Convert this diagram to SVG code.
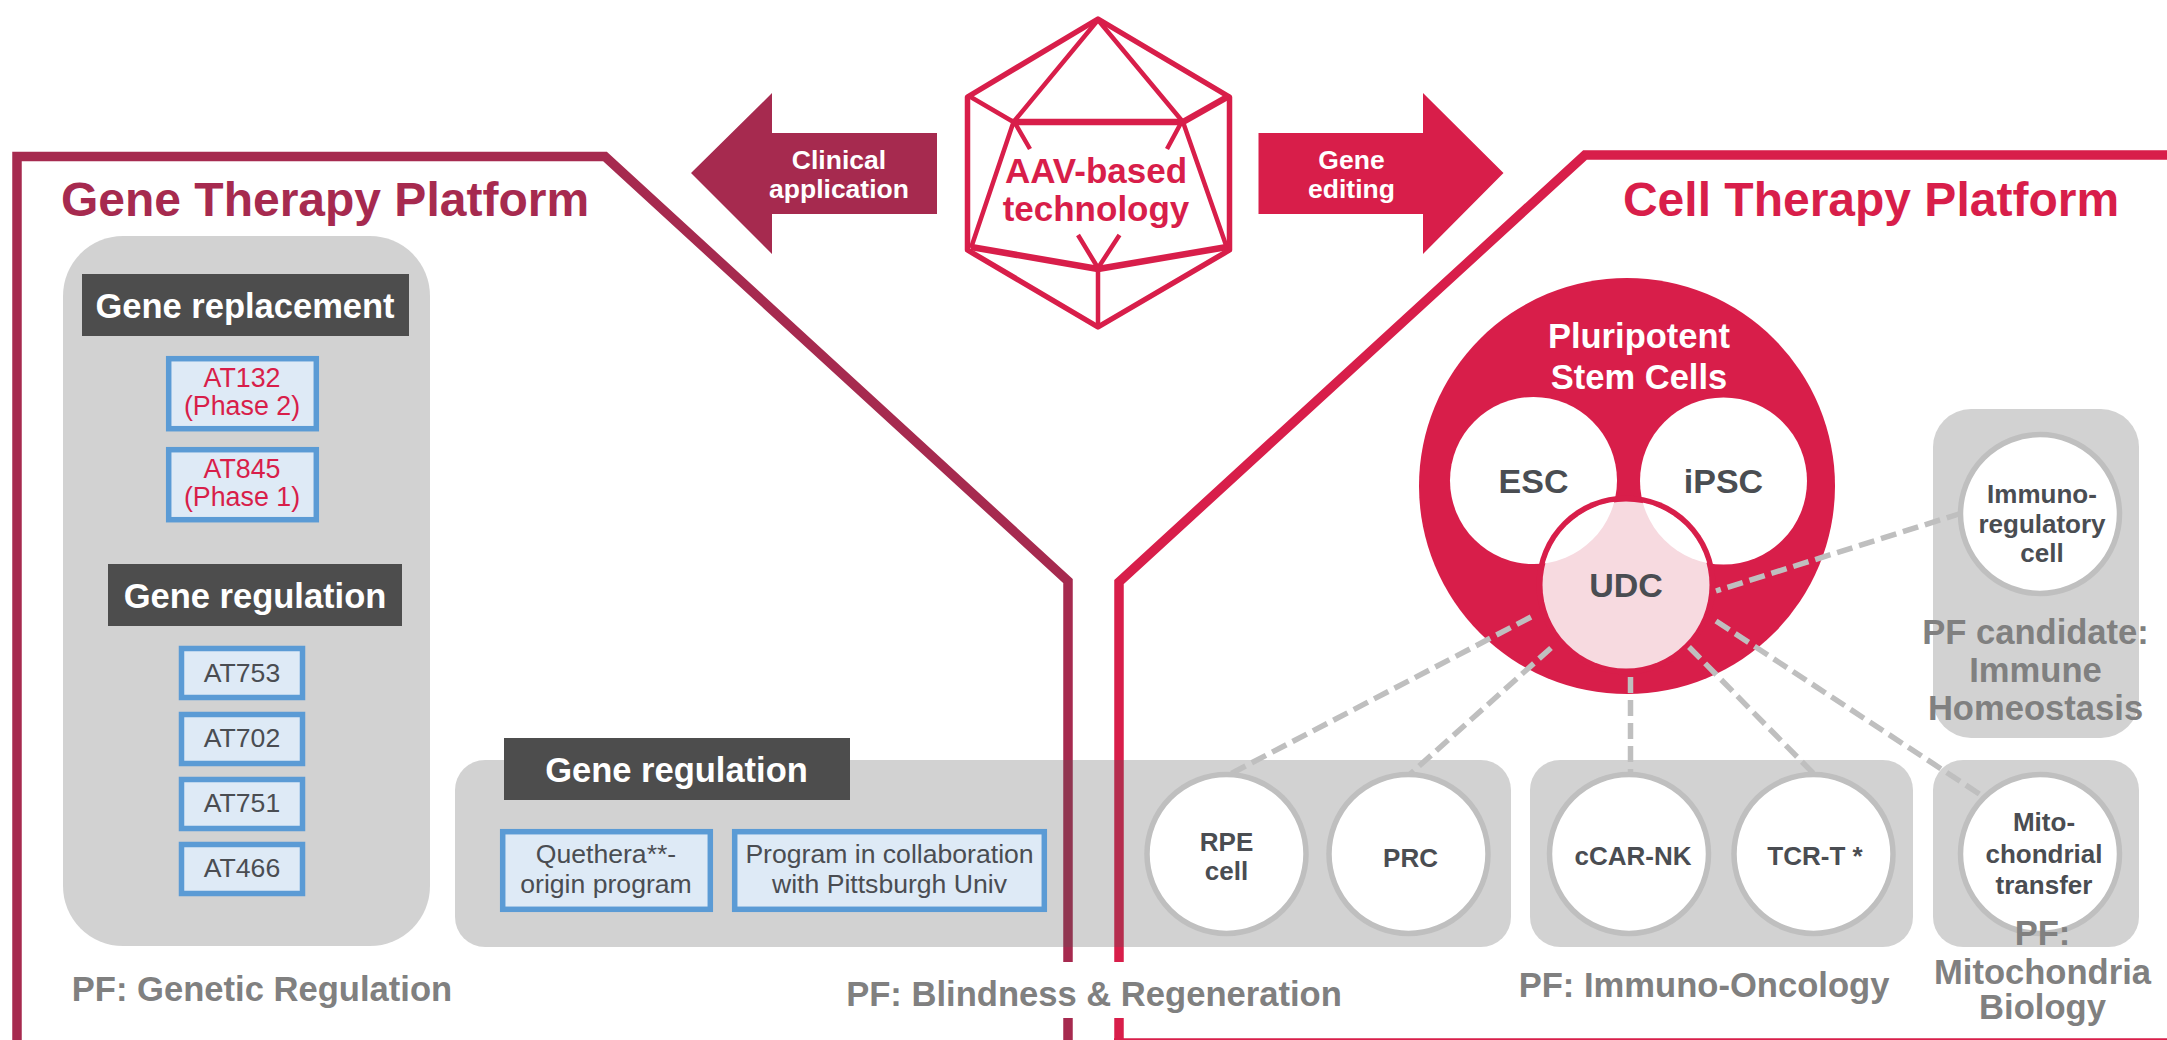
<svg xmlns="http://www.w3.org/2000/svg" width="2167" height="1040" viewBox="0 0 2167 1040">
<defs>
<style>
text{font-family:"Liberation Sans",Arial,sans-serif;text-anchor:middle}
.b{font-weight:700}
.t{font-size:48px;font-weight:700}
.h{font-size:34.500px;font-weight:700;fill:#fff}
.pf{font-size:34.600px;font-weight:700;fill:#808080}
.n{font-size:26.600px;fill:#4a4d52}
.r{font-size:26.800px;fill:#d81e4a}
.c{font-size:26px;font-weight:700;fill:#4a4d52}
.big{font-size:34px;font-weight:700;fill:#4a4d52}
.w{font-size:26.500px;font-weight:700;fill:#fff}
.panel{fill:#585858;fill-opacity:.27}
.dark{fill:#4d4d4d}
.box{fill:#deeaf6;stroke:#5b9bd5;stroke-width:5.5}
.cell{fill:#fff;stroke:#bfbfbf;stroke-width:5.5}
.dash{fill:none;stroke:#bfbfbf;stroke-width:5.5;stroke-dasharray:16 7}
.hex{fill:none;stroke:#d81e4a;stroke-linejoin:round;stroke-linecap:butt}
</style>
<clipPath id="udcClip"><circle cx="1626" cy="585" r="84"/></clipPath>
</defs>

<g id="frames" fill="none" stroke-width="9.500">
<path d="M17 1040V156.500H605L1068 581V962" stroke="#a62a4f"/>
<path d="M2167 155H1585L1119 582V962" stroke="#d81e4a"/>
<path d="M1068 1018V1040" stroke="#a62a4f"/>
<path d="M1119 1018V1040" stroke="#d81e4a"/>
<path d="M1114 1039.200H2167" stroke="#d81e4a" stroke-width="2"/>
</g>

<g id="panels">
<rect class="panel" x="63" y="236" width="367" height="710" rx="60"/>
<rect class="panel" x="455" y="760" width="1056" height="187" rx="30"/>
<rect class="panel" x="1530" y="760" width="383" height="187" rx="30"/>
<rect class="panel" x="1933" y="760" width="206" height="187" rx="30"/>
<rect class="panel" x="1933" y="409" width="206" height="329" rx="38"/>
</g>

<g id="hexagon">
<path class="hex" stroke-width="5.500" d="M1098 19L1229.500 97V250L1098 327L967.500 250V97Z"/>
<path class="hex" stroke-width="4.500" d="M1098 20L1013.500 122M1098 20L1183 122M969 96L1013.500 122M1013.500 122L971 248M1015 123L1030 149M1181 123L1167 149M1183 122L1227 248M1078 235L1098 268L1119.500 235M1098 269V328"/>
<path class="hex" stroke-width="6.500" d="M1011 122H1186M1183 122L1229 96M971 247L1098 269L1227 247"/>
<text class="b" x="1096" y="183" font-size="35" fill="#d81e4a">AAV-based</text>
<text class="b" x="1096" y="221" font-size="35" fill="#d81e4a">technology</text>
</g>

<g id="arrow-clinical">
<path d="M691 173L772 93V133H937V214H772V254Z" fill="#a62a4f"/>
<text class="w" x="839" y="169">Clinical</text>
<text class="w" x="839" y="198">application</text>
</g>
<g id="arrow-gene-editing">
<path d="M1258.500 133H1423V93L1503.500 173L1423 254V214H1258.500Z" fill="#d81e4a"/>
<text class="w" x="1351.500" y="169">Gene</text>
<text class="w" x="1351.500" y="198">editing</text>
</g>

<g id="title-gene"><text class="t" x="325" y="216" fill="#a62a4f">Gene Therapy Platform</text></g>
<g id="title-cell"><text class="t" x="1871" y="216" fill="#d81e4a">Cell Therapy Platform</text></g>

<g id="gene-replacement">
<rect class="dark" x="82" y="274" width="327" height="62"/>
<text class="h" x="245" y="318">Gene replacement</text>
</g>
<g id="at132">
<rect class="box" x="168.700" y="358.700" width="147.600" height="70"/>
<text class="r" x="242" y="387">AT132</text><text class="r" x="242" y="415">(Phase 2)</text>
</g>
<g id="at845">
<rect class="box" x="168.700" y="449.700" width="147.600" height="70"/>
<text class="r" x="242" y="478">AT845</text><text class="r" x="242" y="506">(Phase 1)</text>
</g>
<g id="gene-regulation-1">
<rect class="dark" x="108" y="564" width="294" height="62"/>
<text class="h" x="255" y="608">Gene regulation</text>
</g>
<g id="at753"><rect class="box" x="181.500" y="648.500" width="121" height="49"/><text class="n" x="242" y="682">AT753</text></g>
<g id="at702"><rect class="box" x="181.500" y="714.500" width="121" height="49"/><text class="n" x="242" y="747">AT702</text></g>
<g id="at751"><rect class="box" x="181.500" y="779.500" width="121" height="49"/><text class="n" x="242" y="812">AT751</text></g>
<g id="at466"><rect class="box" x="181.500" y="844.500" width="121" height="49"/><text class="n" x="242" y="877">AT466</text></g>
<g id="pf-genetic"><text class="pf" x="262" y="1001">PF: Genetic Regulation</text></g>

<g id="gene-regulation-2">
<rect class="dark" x="504" y="738" width="346" height="62"/>
<text class="h" x="676.500" y="782">Gene regulation</text>
</g>
<g id="quethera">
<rect class="box" x="502.700" y="831.700" width="207.600" height="77.600"/>
<text class="n" x="606" y="863">Quethera**-</text><text class="n" x="606" y="893">origin program</text>
</g>
<g id="pittsburgh">
<rect class="box" x="734.700" y="831.700" width="309.600" height="77.600"/>
<text class="n" x="889.500" y="863">Program in collaboration</text><text class="n" x="889.500" y="893">with Pittsburgh Univ</text>
</g>
<g id="pf-blindness"><text class="pf" x="1094" y="1006">PF: Blindness &amp; Regeneration</text></g>

<g id="psc">
<circle cx="1627" cy="486" r="208" fill="#d81e4a"/>
<text class="b" x="1639" y="348" font-size="34.500" fill="#fff">Pluripotent</text>
<text class="b" x="1639" y="389" font-size="34.500" fill="#fff">Stem Cells</text>
</g>
<g id="esc">
<circle cx="1533.500" cy="480.500" r="83.500" fill="#fff"/>
<text class="big" x="1533.500" y="493">ESC</text>
</g>
<g id="ipsc">
<circle cx="1723.500" cy="481" r="83.500" fill="#fff"/>
<text class="big" x="1723.500" y="493">iPSC</text>
</g>
<g id="udc">
<circle cx="1626" cy="585" r="89.500" fill="#d81e4a"/>
<circle cx="1626" cy="585" r="83.500" fill="#f7dae0"/>
<g clip-path="url(#udcClip)">
<circle cx="1533.500" cy="480.500" r="83.500" fill="#fff"/>
<circle cx="1723.500" cy="481" r="83.500" fill="#fff"/>
</g>
<text class="big" x="1626" y="597">UDC</text>
</g>

<g id="connectors">
<path class="dash" d="M1962 513L1716 591"/>
<path class="dash" d="M1531 617L1226.500 776"/>
<path class="dash" d="M1551 648L1408 776"/>
<path class="dash" d="M1630.500 677V776"/>
<path class="dash" d="M1689 647L1816 776"/>
<path class="dash" d="M1716 621L1990 801"/>
</g>

<g id="rpe"><circle class="cell" cx="1226.500" cy="854" r="79.500"/><text class="c" x="1226.500" y="851">RPE</text><text class="c" x="1226.500" y="880">cell</text></g>
<g id="prc"><circle class="cell" cx="1408.500" cy="854" r="79.500"/><text class="c" x="1410.500" y="867">PRC</text></g>
<g id="ccar-nk"><circle class="cell" cx="1629" cy="854" r="79.500"/><text class="c" x="1633" y="865">cCAR-NK</text></g>
<g id="tcr-t"><circle class="cell" cx="1813.500" cy="854" r="79.500"/><text class="c" x="1815" y="865">TCR-T *</text></g>
<g id="mito"><circle class="cell" cx="2040" cy="854" r="79.500"/><text class="c" x="2044" y="831">Mito-</text><text class="c" x="2044" y="863">chondrial</text><text class="c" x="2044" y="894">transfer</text></g>
<g id="immuno"><circle class="cell" cx="2040" cy="514" r="79.500"/><text class="c" x="2042" y="503">Immuno-</text><text class="c" x="2042" y="533">regulatory</text><text class="c" x="2042" y="562">cell</text></g>

<g id="pf-immuno-oncology"><text class="pf" x="1704" y="997">PF: Immuno-Oncology</text></g>
<g id="pf-candidate"><text class="pf" x="2035.500" y="644">PF candidate:</text><text class="pf" x="2035.500" y="682">Immune</text><text class="pf" x="2035.500" y="720">Homeostasis</text></g>
<g id="pf-mito"><text class="pf" x="2042.500" y="945">PF:</text><text class="pf" x="2042.500" y="984">Mitochondria</text><text class="pf" x="2042.500" y="1019">Biology</text></g>
</svg>
